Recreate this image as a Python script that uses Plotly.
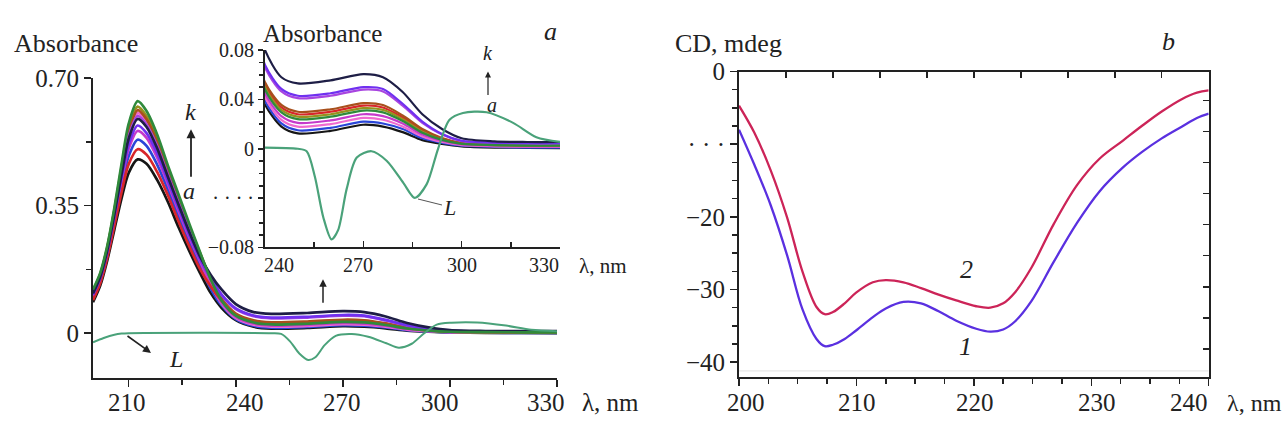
import plotly.graph_objects as go

# ---------------- data: absorbance spectra (panel a) ----------------
wl = [200, 202, 204, 206, 208, 210, 212.5, 215, 218, 221, 224, 227, 230, 233, 236,
      240, 245, 250, 260, 270, 276, 282, 288, 294, 300, 310, 320, 330]

abs_black = [0.085, 0.130, 0.200, 0.285, 0.370, 0.440, 0.477, 0.465, 0.420, 0.360, 0.290, 0.225, 0.165, 0.110, 0.070,
             0.036, 0.018, 0.0125, 0.0145, 0.0195, 0.018, 0.0135, 0.007, 0.004, 0.002, 0.001, 0.0008, 0.0005]
abs_blue = [0.097, 0.142, 0.214, 0.305, 0.402, 0.486, 0.531, 0.514, 0.462, 0.394, 0.320, 0.250, 0.187, 0.122, 0.077,
            0.039, 0.0205, 0.015, 0.017, 0.022, 0.0205, 0.016, 0.0085, 0.0048, 0.0025, 0.0015, 0.001, 0.001]
abs_pink = [0.113, 0.158, 0.232, 0.333, 0.445, 0.547, 0.604, 0.580, 0.519, 0.439, 0.361, 0.285, 0.210, 0.135, 0.082,
            0.042, 0.0235, 0.018, 0.020, 0.025, 0.0235, 0.018, 0.010, 0.0055, 0.003, 0.002, 0.0015, 0.0015]
abs_magenta = [0.102, 0.147, 0.220, 0.314, 0.416, 0.506, 0.555, 0.536, 0.481, 0.409, 0.334, 0.262, 0.197, 0.132, 0.084,
               0.045, 0.0265, 0.021, 0.023, 0.028, 0.0265, 0.0205, 0.0115, 0.0065, 0.0035, 0.0025, 0.002, 0.002]
abs_green = [0.120, 0.165, 0.240, 0.345, 0.465, 0.575, 0.637, 0.610, 0.545, 0.460, 0.380, 0.300, 0.222, 0.148, 0.090,
             0.048, 0.0295, 0.024, 0.026, 0.031, 0.0295, 0.0225, 0.013, 0.0072, 0.004, 0.003, 0.0025, 0.0025]
abs_olive = [0.117, 0.162, 0.236, 0.339, 0.456, 0.562, 0.622, 0.596, 0.533, 0.451, 0.372, 0.293, 0.220, 0.148, 0.092,
             0.050, 0.0315, 0.026, 0.028, 0.033, 0.0315, 0.024, 0.014, 0.0078, 0.0043, 0.003, 0.0025, 0.0025]
abs_red = [0.091, 0.136, 0.207, 0.296, 0.387, 0.464, 0.505, 0.490, 0.442, 0.378, 0.306, 0.238, 0.176, 0.128, 0.090,
           0.052, 0.0335, 0.028, 0.030, 0.035, 0.0335, 0.0255, 0.015, 0.0083, 0.0045, 0.0035, 0.003, 0.003]
abs_brown = [0.115, 0.160, 0.234, 0.336, 0.450, 0.554, 0.612, 0.587, 0.525, 0.444, 0.366, 0.288, 0.218, 0.150, 0.095,
             0.054, 0.0355, 0.030, 0.032, 0.037, 0.0355, 0.027, 0.016, 0.0088, 0.0048, 0.0035, 0.003, 0.003]
abs_purple = [0.111, 0.156, 0.230, 0.330, 0.441, 0.540, 0.596, 0.573, 0.513, 0.434, 0.357, 0.281, 0.213, 0.152, 0.106,
              0.066, 0.0465, 0.041, 0.043, 0.048, 0.0465, 0.035, 0.021, 0.0115, 0.0062, 0.0045, 0.004, 0.004]
abs_violet = [0.105, 0.150, 0.223, 0.320, 0.425, 0.518, 0.570, 0.549, 0.493, 0.418, 0.342, 0.269, 0.203, 0.150, 0.106,
              0.068, 0.0485, 0.043, 0.045, 0.050, 0.0485, 0.0365, 0.022, 0.012, 0.0065, 0.005, 0.0045, 0.0045]
abs_navy = [0.109, 0.154, 0.228, 0.327, 0.436, 0.534, 0.588, 0.566, 0.507, 0.429, 0.352, 0.277, 0.210, 0.160, 0.120,
            0.080, 0.058, 0.053, 0.0555, 0.0605, 0.058, 0.046, 0.028, 0.016, 0.0085, 0.006, 0.0055, 0.0055]

series = [
    (abs_black, "#161616"), (abs_blue, "#2a46d8"), (abs_pink, "#f06ad0"), (abs_magenta, "#c53acb"),
    (abs_red, "#d8262a"), (abs_olive, "#95921e"), (abs_brown, "#a8501c"), (abs_purple, "#a845e0"),
    (abs_violet, "#7030f0"), (abs_navy, "#1e1e46"), (abs_green, "#2f8a3c"),
]

# ligand L difference spectrum
L_wl = [200, 203, 206, 208, 210, 250, 252.7, 255.2, 257.8, 260.3, 262.3, 264.9, 268, 272.5, 277.1,
        282.2, 285.7, 289.3, 292.8, 296.3, 300.4, 307.6, 315.7, 322.8, 330]
L_val = [-0.025, -0.013, -0.004, -0.001, 0, 0, -0.002, -0.0225, -0.0557, -0.0735, -0.066, -0.0327, -0.0071, -0.002, -0.0097,
         -0.0276, -0.0398, -0.0289, 0, 0.0235, 0.029, 0.0296, 0.021, 0.0094, 0.0056]

main_x_ticks = [210, 240, 270, 300, 330]
inset_x_ticks = [240, 270, 300, 330]

# ---------------- data: CD spectra (panel b) ----------------
cd_wl = [200, 201.3, 202.7, 204.1, 205.4, 206.6, 207.3, 208, 209, 210, 211.4, 212.5, 214, 215.5, 217,
         218.5, 220.2, 221.4, 222.5, 223.5, 224.9, 226.8, 228.8, 230.7, 232.7, 234.3, 236, 237.7, 239, 240]
cd_1 = [-8.0, -12.8, -18.4, -25.3, -32.7, -36.8, -37.8, -37.6, -36.8, -35.6, -33.8, -32.6, -31.7, -31.9, -33.0,
        -34.3, -35.4, -35.8, -35.5, -34.4, -31.6, -26.2, -20.8, -16.5, -13.2, -11.1, -9.2, -7.6, -6.4, -5.8]
cd_2 = [-4.7, -8.4, -13.6, -20.1, -27.5, -32.4, -33.4, -33.1, -31.9, -30.4, -29.0, -28.7, -29.0, -29.8, -30.7,
        -31.5, -32.3, -32.5, -31.9, -30.4, -27.0, -21.0, -15.6, -12.0, -9.5, -7.5, -5.5, -3.8, -2.9, -2.6]

cd_x_ticks = [200, 210, 220, 230, 240]

FONT = "Liberation Serif"
INK = "#222222"
W, H = 1288, 430


def px(x):
    return x / W


def py(y):
    return 1 - y / H


fig = go.Figure()

# main panel a
for vals, col in series:
    fig.add_trace(go.Scatter(x=wl, y=vals, mode="lines", line=dict(color=col, width=2.7, shape="spline", smoothing=0.8),
                             xaxis="x", yaxis="y", hoverinfo="skip", showlegend=False))
fig.add_trace(go.Scatter(x=L_wl, y=L_val, mode="lines", line=dict(color="#4aa27a", width=2, shape="spline", smoothing=0.8),
                         xaxis="x", yaxis="y", hoverinfo="skip", showlegend=False))
# inset
for vals, col in series:
    fig.add_trace(go.Scatter(x=wl, y=vals, mode="lines", line=dict(color=col, width=2.2, shape="spline", smoothing=0.8),
                             xaxis="x2", yaxis="y2", hoverinfo="skip", showlegend=False))
fig.add_trace(go.Scatter(x=L_wl, y=L_val, mode="lines", line=dict(color="#4aa27a", width=2.2, shape="spline", smoothing=0.8),
                         xaxis="x2", yaxis="y2", hoverinfo="skip", showlegend=False))
# panel b
fig.add_trace(go.Scatter(x=cd_wl, y=cd_1, mode="lines", line=dict(color="#5a30e0", width=2.3, shape="spline", smoothing=1.0),
                         xaxis="x3", yaxis="y3", hoverinfo="skip", showlegend=False))
fig.add_trace(go.Scatter(x=cd_wl, y=cd_2, mode="lines", line=dict(color="#cc2458", width=2.3, shape="spline", smoothing=1.0),
                         xaxis="x3", yaxis="y3", hoverinfo="skip", showlegend=False))
# invisible helper for mirrored (top/right) tick axes of panel b
fig.add_trace(go.Scatter(x=cd_wl, y=cd_1, mode="lines", line=dict(color="rgba(0,0,0,0)", width=0),
                         xaxis="x4", yaxis="y4", hoverinfo="skip", showlegend=False))

axis_common = dict(showgrid=False, zeroline=False, showline=True, linewidth=2, linecolor=INK,
                   tickcolor=INK, tickwidth=1.5)

fig.update_layout(
    width=W, height=H, margin=dict(l=0, r=0, t=0, b=0),
    paper_bgcolor="white", plot_bgcolor="rgba(0,0,0,0)", showlegend=False,
    font=dict(family=FONT, size=24, color=INK),
    xaxis=dict(domain=[px(93), px(557)], range=[200, 330], anchor="y",
               tickvals=main_x_ticks, showticklabels=False, ticks="outside", ticklen=7,
               minor=dict(tick0=210, dtick=15, ticks="outside", ticklen=5, tickcolor=INK),
               **axis_common),
    yaxis=dict(domain=[py(387), py(69)], range=[-0.124, 0.70], anchor="x",
               tickvals=[0, 0.35, 0.70], ticktext=["0", "0.35", "0.70"], ticks="outside", ticklen=7,
               minor=dict(tickvals=[0.175, 0.525], ticks="outside", ticklen=5, tickcolor=INK),
               tickfont=dict(size=25), **axis_common),
    xaxis2=dict(domain=[px(265), px(560)], range=[240, 330], anchor="y2",
                tickvals=inset_x_ticks, showticklabels=False, ticks="inside", ticklen=6,
                minor=dict(tick0=240, dtick=15, ticks="inside", ticklen=5, tickcolor=INK),
                **axis_common),
    yaxis2=dict(domain=[py(248.3), py(39.3)], range=[-0.08, 0.08], anchor="x2",
                tickvals=[0.08, 0.04, 0, -0.04, -0.08], ticktext=["0.08", "0.04", "0", "· · · ·", "−0.08"],
                ticks="outside", ticklen=5,
                minor=dict(tick0=0, dtick=0.01, ticks="outside", ticklen=4, tickcolor=INK),
                tickfont=dict(size=20), **axis_common),
    xaxis3=dict(domain=[px(739), px(1208.7)], range=[200, 240], anchor="y3",
                tickvals=cd_x_ticks, showticklabels=False, ticks="outside", ticklen=7,
                minor=dict(tick0=200, dtick=2.5, ticks="outside", ticklen=5, tickcolor=INK),
                **axis_common),
    yaxis3=dict(domain=[py(386), py(62)], range=[-42.1, 0], anchor="x3",
                tickvals=[0, -10, -20, -30, -40], ticktext=["0", "· · ·", "−20", "−30", "−40"],
                ticks="outside", ticklen=7,
                minor=dict(tick0=0, dtick=2.5, ticks="outside", ticklen=5, tickcolor=INK),
                tickfont=dict(size=25), **axis_common),
    xaxis4=dict(overlaying="x3", side="top", anchor="y4", range=[200, 240], tick0=200, dtick=4,
                ticks="inside", ticklen=6, showticklabels=False, **axis_common),
    yaxis4=dict(overlaying="y3", side="right", anchor="x4", range=[-42.1, 0], tick0=-4, dtick=4.27,
                ticks="inside", ticklen=6, showticklabels=False, **axis_common),
)

# faint baseline in panel b
fig.add_shape(type="line", xref="x3", yref="y3", x0=200, x1=240, y0=-41.2, y1=-41.2,
              line=dict(color="#e2e2e2", width=1))

ann = []


def txt(x, y, s, size=26, italic=False, xanchor="center"):
    ann.append(dict(x=px(x), y=py(y), xref="paper", yref="paper", text=(f"<i>{s}</i>" if italic else s),
                    showarrow=False, xanchor=xanchor, yanchor="middle", font=dict(family=FONT, size=size, color=INK)))


def arrow(x1, y1, x0, y0, head=2, width=1.5):
    ann.append(dict(x=px(x1), y=py(y1), xref="paper", yref="paper", ax=x0 - x1, ay=y0 - y1,
                    text="", showarrow=True, arrowhead=head, arrowsize=1, arrowwidth=width, arrowcolor=INK))


# x tick labels (typeset slightly off their ticks, as in the original)
for v, cx in zip(main_x_ticks, [127, 245, 342, 440, 546]):
    txt(cx, 413, str(v), 25)
for v, cx in zip(inset_x_ticks, [279, 358, 462, 544]):
    txt(cx, 267, str(v), 20)
for v, cx in zip(cd_x_ticks, [746, 857, 975, 1097, 1189]):
    txt(cx, 413, str(v), 25)

txt(76, 32, "Absorbance", 26)
txt(322, 22, "Absorbance", 25)
txt(550, 20, "a", 26, italic=True)
txt(728, 32, "CD, mdeg", 26)
txt(1168, 30, "b", 26, italic=True)
txt(580, 413, "λ, nm", 25, xanchor="left")
txt(577, 268, "λ, nm", 21, xanchor="left")
txt(1284, 413, "λ, nm", 24, xanchor="right")

# panel a annotations
txt(191, 105, "k", 24, italic=True)
txt(189, 188, "a", 24, italic=True)
arrow(191, 123, 191, 172, head=2, width=1.8)
txt(176, 366, "L", 24, italic=True)
arrow(151, 360, 126, 342, head=2, width=1.6)
arrow(323, 282, 323, 307, head=2, width=1.5)
# inset annotations
txt(488, 42, "k", 20, italic=True)
txt(492, 97, "a", 20, italic=True)
arrow(488, 62, 488, 87, head=2, width=1.2)
ann.append(dict(x=px(418), y=py(197), xref="paper", yref="paper", ax=32, ay=8, text="<i>L</i>",
                showarrow=True, arrowhead=0, arrowwidth=1, arrowcolor="#555555",
                font=dict(family=FONT, size=22, color=INK)))
# panel b curve labels
txt(966, 272, "2", 26, italic=True)
txt(965, 353, "1", 26, italic=True)

fig.update_layout(annotations=ann)

# remove the default page margin so the figure sits at the window's top-left corner; hide the mode bar
fig.write_html("out.html", config={"displayModeBar": False, "staticPlot": True},
               post_script="document.body.style.margin='0';document.body.style.padding='0';")
